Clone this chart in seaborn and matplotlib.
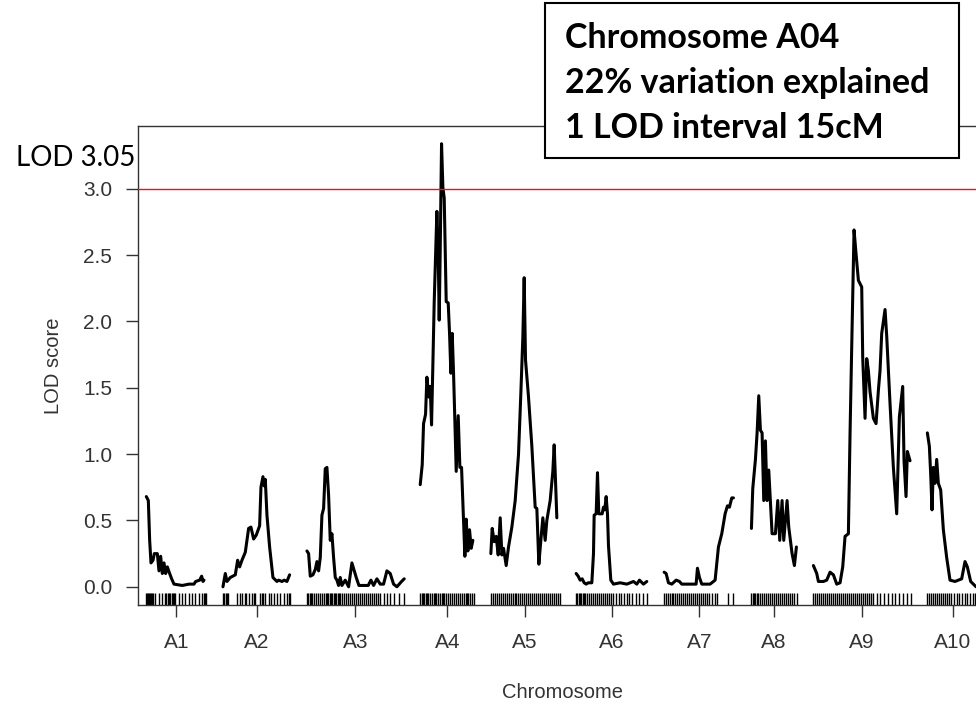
import numpy as np
import pandas as pd
import matplotlib
matplotlib.use("Agg")
import matplotlib.pyplot as plt
from matplotlib.patches import Rectangle
import seaborn as sns

# ---------------- data ----------------
chrom_names = ["A1", "A2", "A3", "A4", "A5", "A6", "A7", "A8", "A9", "A10"]
chrom_lengths = [90, 101, 145, 81, 103, 107, 106, 68, 146, 77]   # cM
gap_cM = 25

a1_pos = [0, 3, 5, 7, 10, 12, 16.5, 19, 21.5, 24, 26.5, 29, 31.5, 35, 38, 41.5, 54, 64, 71.5, 74, 80, 83, 85, 86.5]
a1_lod = [0.68, 0.65, 0.35, 0.18, 0.20, 0.25, 0.25, 0.12, 0.23, 0.10, 0.18, 0.10, 0.15, 0.10, 0.06, 0.02, 0.01, 0.02, 0.02, 0.04, 0.05, 0.08, 0.04, 0.05]

a2_pos = [0, 3.5, 6, 11, 18.5, 22, 25, 28.5, 33.5, 38.5, 42, 46, 50, 55, 57, 60, 62, 63.5, 66, 70, 75, 81, 83.5, 88.5, 92, 96, 100]
a2_lod = [0.00, 0.10, 0.04, 0.07, 0.09, 0.20, 0.15, 0.20, 0.26, 0.44, 0.45, 0.36, 0.39, 0.46, 0.75, 0.83, 0.76, 0.81, 0.54, 0.30, 0.07, 0.04, 0.05, 0.04, 0.05, 0.04, 0.09]

a3_pos = [0, 2.5, 5, 9, 12.5, 15, 17.5, 20, 22.5, 25, 27.5, 30, 32.5, 35, 37.5, 40, 42.5, 45, 47.5, 50, 52.5, 57.5, 62.5, 67.5, 74, 78, 82, 85, 92, 96, 100, 105, 110, 115, 120, 125, 130, 135, 142, 146]
a3_lod = [0.27, 0.25, 0.08, 0.09, 0.13, 0.19, 0.12, 0.22, 0.54, 0.59, 0.89, 0.90, 0.69, 0.35, 0.40, 0.22, 0.07, 0.05, 0.01, 0.07, 0.01, 0.05, 0.00, 0.18, 0.07, 0.01, 0.01, 0.01, 0.01, 0.05, 0.01, 0.06, 0.02, 0.02, 0.12, 0.10, 0.02, 0.00, 0.04, 0.06]

a4_pos = [0, 3, 5, 8, 10, 13, 15, 17, 19, 21, 23, 25, 27, 28.5, 30, 32, 34, 36, 37.5, 39, 42, 44, 46, 48, 50, 52, 54, 57, 59.5, 62, 65, 67, 69, 71.5, 74, 76.5, 79]
a4_lod = [0.77, 0.92, 1.23, 1.30, 1.58, 1.43, 1.51, 1.22, 1.68, 2.15, 2.49, 2.83, 2.51, 2.01, 2.54, 3.34, 3.01, 2.93, 2.54, 2.15, 2.14, 1.91, 1.61, 1.91, 1.61, 1.25, 0.87, 1.29, 0.90, 0.90, 0.50, 0.23, 0.51, 0.27, 0.43, 0.29, 0.35]

a5_pos = [0, 2, 5, 8, 11, 14, 16.5, 19, 23, 26.5, 31.5, 36.5, 41.5, 45, 48, 50, 52, 56.5, 61.5, 66.5, 69, 72, 75, 78, 81.5, 84, 89, 93, 95, 97, 99]
a5_lod = [0.25, 0.44, 0.34, 0.38, 0.24, 0.52, 0.24, 0.29, 0.16, 0.30, 0.45, 0.65, 1.00, 1.46, 1.88, 2.33, 1.71, 1.43, 1.06, 0.60, 0.59, 0.17, 0.35, 0.52, 0.35, 0.50, 0.65, 0.87, 1.07, 0.80, 0.52]

a6_pos = [0, 3, 6, 9, 12, 15, 18, 23.5, 26, 27, 30, 32, 34, 39, 41, 43, 45, 47, 48.5, 52, 56, 66, 76, 86, 91, 95, 101, 106]
a6_lod = [0.10, 0.08, 0.05, 0.06, 0.03, 0.02, 0.03, 0.03, 0.25, 0.54, 0.55, 0.86, 0.55, 0.55, 0.60, 0.58, 0.68, 0.55, 0.31, 0.05, 0.02, 0.03, 0.02, 0.04, 0.02, 0.05, 0.02, 0.04]

a7_pos = [0, 3, 6.5, 11.5, 18, 23, 26.5, 39, 48, 50, 53, 56.5, 69, 76.5, 81.5, 86.5, 91.5, 95, 98, 101.5, 104]
a7_lod = [0.11, 0.10, 0.03, 0.02, 0.05, 0.04, 0.02, 0.02, 0.02, 0.14, 0.07, 0.02, 0.02, 0.05, 0.30, 0.40, 0.55, 0.61, 0.60, 0.67, 0.67]

a8_pos = [0, 2, 6, 8.5, 11, 13.5, 16, 18.5, 21, 23.5, 26, 31, 36, 39.5, 42.5, 46, 48.5, 53.5, 56, 61, 64.5, 67.5]
a8_lod = [0.44, 0.74, 0.96, 1.16, 1.44, 1.18, 1.16, 0.65, 1.10, 0.65, 0.88, 0.40, 0.40, 0.65, 0.35, 0.65, 0.35, 0.65, 0.45, 0.25, 0.16, 0.30]

a9_pos = [0, 5, 7.5, 15, 20, 25, 30, 35, 40, 44, 47.5, 52.5, 55, 57.5, 61, 64, 67.5, 72.5, 74, 77.5, 80, 82.5, 85, 90, 94, 97.5, 100, 102.5, 107.5, 110, 115, 120, 125, 129, 134, 136, 139, 141, 145]
a9_lod = [0.16, 0.10, 0.04, 0.04, 0.05, 0.11, 0.09, 0.02, 0.03, 0.15, 0.38, 0.40, 1.16, 1.81, 2.69, 2.51, 2.31, 2.26, 1.73, 1.27, 1.72, 1.63, 1.47, 1.27, 1.23, 1.48, 1.63, 1.91, 2.09, 1.89, 1.38, 0.90, 0.55, 1.28, 1.51, 0.95, 0.68, 1.02, 0.95]

a10_pos = [0, 3, 5, 7, 9, 11.5, 14, 16.5, 20, 24, 29, 34, 41.5, 46.5, 51.5, 56.5, 60, 65, 73, 77]
a10_lod = [1.16, 1.06, 0.85, 0.58, 0.90, 0.78, 0.96, 0.78, 0.73, 0.43, 0.22, 0.05, 0.04, 0.05, 0.06, 0.19, 0.15, 0.04, 0.00, 0.01]

a1_markers = [0, 1.5, 3, 4.5, 6, 7.5, 9, 10.5, 13.5, 18.5, 23.5, 28.5, 30, 32, 34, 36, 38, 40, 42, 43.5, 48.5, 53.5, 58.5, 63.5, 68.5, 73.5, 78.5, 83.5, 86, 88.5, 90]
a2_markers = [0, 2, 4, 6, 8, 21, 25, 28.5, 33, 35, 38.5, 43.5, 46, 48.5, 56, 58, 60, 63.5, 68.5, 72, 76, 81, 86, 91, 96, 98.5, 101]
a3_markers = [0, 2, 4, 6, 8, 10, 13, 16, 19, 22, 25, 28, 30, 32, 34, 36, 38, 40, 42, 44, 46, 48, 50, 53, 56, 59, 62, 65, 68, 71, 74, 77, 80, 83, 86, 89, 92, 95, 98, 101, 104, 107, 110, 115, 120, 124, 130, 138, 145]
a4_markers = [0, 2, 4, 6, 8, 10, 12, 15, 18, 20, 22, 24, 27, 30, 32, 34, 36, 38, 41, 44, 47, 50, 53, 56, 60, 63, 66, 68, 70, 72, 75, 78, 81]
a5_markers = [0, 3, 6, 9, 12, 15, 18, 21, 24, 27, 30, 33, 36, 38, 40, 43, 46, 49, 52, 55, 58, 61, 64, 67, 70, 73, 76, 79, 82, 85, 88, 91, 94, 97, 100, 103]
a6_markers = [0, 2, 4, 6, 8, 10, 12, 14, 17, 20, 23, 26, 29, 32, 35, 38, 41, 44, 47, 50, 53, 56, 60, 64, 68, 72, 76, 80, 84, 90, 95, 100, 107]
a7_markers = [0, 3, 6, 9, 12, 14, 17, 20, 23, 26, 29, 32, 35, 38, 41, 44, 47, 50, 53, 56, 59, 62, 65, 68, 72, 76, 80, 96, 104]
a8_markers = [0, 2, 4, 6, 8, 10, 13, 16, 19, 22, 25, 28, 31, 34, 37, 40, 43, 46, 49, 52, 55, 58, 61, 64, 68]
a9_markers = [0, 3, 6, 9, 12, 15, 18, 21, 24, 27, 30, 33, 36, 39, 42, 45, 48, 51, 54, 57, 60, 63, 66, 69, 72, 75, 78, 81, 84, 87, 90, 95, 100, 106, 112, 118, 122, 128, 134, 140, 146]
a10_markers = [0, 3, 6, 9, 12, 15, 18, 21, 24, 27, 30, 33, 36, 40, 44, 48, 52, 56, 60, 64, 68, 72, 77]

lod_threshold_label = "LOD 3.05"
lod_threshold_drawn = 3.0
max_lod = 3.34
box_lines = ["Chromosome A04", "22% variation explained", "1 LOD interval 15cM"]

# ---------------- build frames ----------------
positions = [a1_pos, a2_pos, a3_pos, a4_pos, a5_pos, a6_pos, a7_pos, a8_pos, a9_pos, a10_pos]
lods = [a1_lod, a2_lod, a3_lod, a4_lod, a5_lod, a6_lod, a7_lod, a8_lod, a9_lod, a10_lod]
markers = [a1_markers, a2_markers, a3_markers, a4_markers, a5_markers,
           a6_markers, a7_markers, a8_markers, a9_markers, a10_markers]

offsets = np.concatenate([[0], np.cumsum(np.array(chrom_lengths) + gap_cM)[:-1]])
rows, mrows = [], []
for name, off, p, l, m in zip(chrom_names, offsets, positions, lods, markers):
    for pi, li in zip(p, l):
        rows.append({"chrom": name, "x": off + pi, "lod": li})
    for mi in m:
        mrows.append({"chrom": name, "x": off + mi})
df = pd.DataFrame(rows)
mdf = pd.DataFrame(mrows)
mids = offsets + np.array(chrom_lengths) / 2

# ---------------- figure ----------------
sns.set_style("ticks")
plt.rcParams["font.family"] = ["Liberation Sans", "DejaVu Sans"]

W, H = 976, 707
fig = plt.figure(figsize=(W / 100, H / 100), dpi=100)
ax = fig.add_axes([138 / W, 1 - 604.5 / H, (987 - 138) / W, (604.5 - 126) / H])

sns.lineplot(data=df, x="x", y="lod", units="chrom", estimator=None,
             color="black", lw=2.2, sort=False, ax=ax)
sns.rugplot(data=mdf, x="x", height=0.024, color="black", lw=1.6, ax=ax)
ax.axhline(lod_threshold_drawn, color="#e8141c", lw=1.0, zorder=3)

ax.set_xlim(-gap_cM / 2, offsets[-1] + chrom_lengths[-1] + gap_cM / 2)
ax.set_ylim(-0.04 * max_lod, max_lod * 1.04)
ax.set_yticks(np.arange(0, 3.01, 0.5))
ax.set_yticklabels([f"{v:.1f}" for v in np.arange(0, 3.01, 0.5)])
ax.set_xticks(mids)
ax.set_xticklabels(chrom_names)
ax.set_xlabel("Chromosome", fontsize=14.5, color="#333333", labelpad=22)
ax.set_ylabel("LOD score", fontsize=14.5, color="#333333", labelpad=14)
ax.tick_params(axis="y", length=8.6, width=1, color="#333333", labelsize=15,
               labelcolor="#333333", pad=10)
ax.tick_params(axis="x", length=8.6, width=1, color="#333333", labelsize=15,
               labelcolor="#333333", pad=12)
for s in ax.spines.values():
    s.set_color("#333333")
    s.set_linewidth(1.0)

fig.text(16 / W, 1 - 158 / H, lod_threshold_label, fontsize=20,
         family=["Lato", "DejaVu Sans"], va="center", ha="left", color="black")

box = Rectangle((545 / W, 1 - 158 / H), (959 - 545) / W, (158 - 3) / H,
                transform=fig.transFigure, facecolor="white", edgecolor="black",
                lw=1.5, zorder=5)
fig.add_artist(box)
for i, line in enumerate(box_lines):
    fig.text(565 / W, 1 - (38 + 45 * i) / H, line, fontsize=24.5, fontweight="bold",
             family=["Lato", "DejaVu Sans"], va="center", ha="left", color="black",
             zorder=6)

fig.savefig("out.png", dpi=100)
